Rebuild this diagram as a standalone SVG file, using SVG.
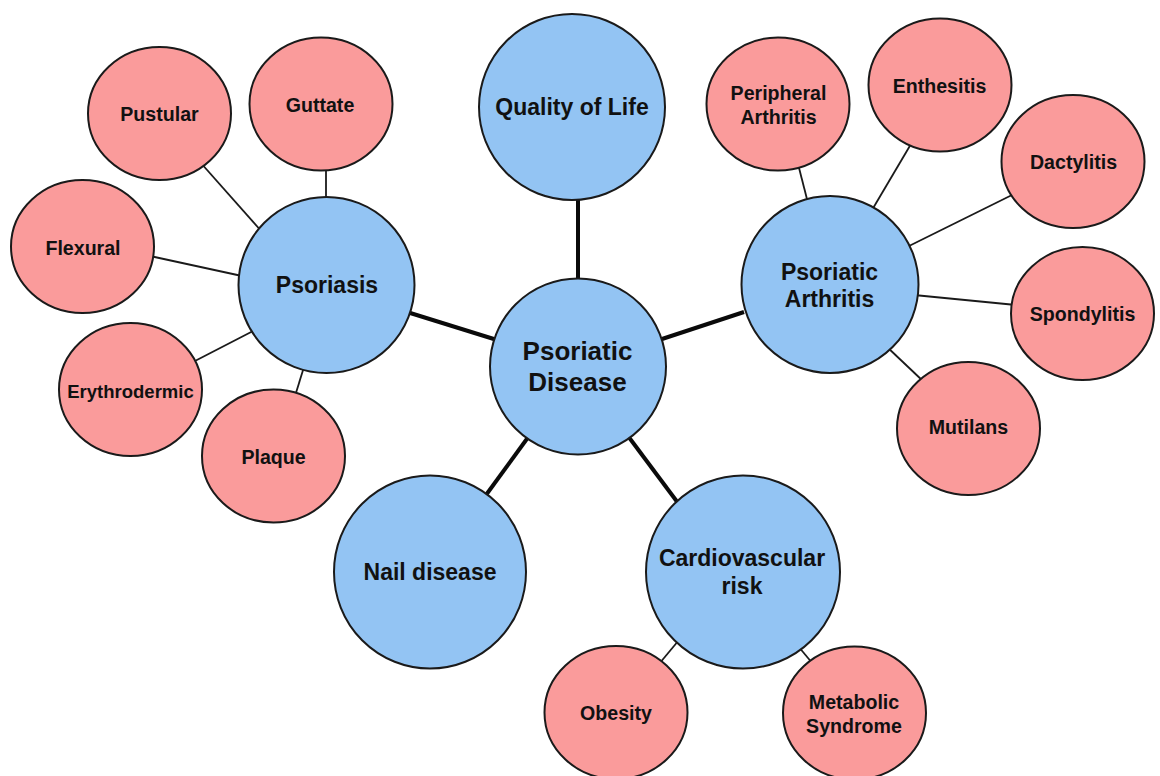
<svg xmlns="http://www.w3.org/2000/svg" width="1160" height="776" viewBox="0 0 1160 776">
<style>
.blue{fill:#93C4F3;stroke:#1a1a1a;stroke-width:2}
.pink{fill:#FA9B9B;stroke:#1a1a1a;stroke-width:2}
.thin{stroke:#1a1a1a;stroke-width:1.8;fill:none}
.thick{stroke:#0a0a0a;stroke-width:4;fill:none}
text{font-family:"Liberation Sans",Arial,sans-serif;font-weight:bold;fill:#111;text-anchor:middle}
.tb{font-size:23px}
.tc{font-size:26px}
.tp{font-size:19.6px}
</style>
<rect width="1160" height="776" fill="#ffffff"/>
<g id="connectors">
<line class="thin" x1="200" y1="162" x2="263" y2="233"/>
<line class="thin" x1="326" y1="168" x2="326" y2="201"/>
<line class="thin" x1="150" y1="256" x2="242" y2="276"/>
<line class="thin" x1="193" y1="362" x2="255" y2="330"/>
<line class="thin" x1="295" y1="396" x2="304" y2="367"/>
<line class="thin" x1="798" y1="164" x2="808" y2="203"/>
<line class="thin" x1="911" y1="144" x2="872" y2="210"/>
<line class="thin" x1="1014" y1="194" x2="907" y2="247"/>
<line class="thin" x1="914" y1="295" x2="1016" y2="305"/>
<line class="thin" x1="886" y1="346" x2="924" y2="382"/>
<line class="thin" x1="679" y1="640" x2="659" y2="664"/>
<line class="thin" x1="798" y1="646" x2="813" y2="664"/>
<line class="thick" x1="578" y1="196" x2="578" y2="282"/>
<line class="thick" x1="407" y1="312" x2="497" y2="340"/>
<line class="thick" x1="659" y1="340" x2="744" y2="312"/>
<line class="thick" x1="529" y1="436" x2="486" y2="495"/>
<line class="thick" x1="628" y1="436" x2="678" y2="503"/>
</g>
<g id="quality-of-life"><circle class="blue" cx="572" cy="107" r="93"/><text class="tb" x="572" y="115">Quality of Life</text></g>
<g id="psoriasis"><circle class="blue" cx="326.5" cy="285" r="88"/><text class="tb" x="327" y="293">Psoriasis</text></g>
<g id="psoriatic-disease"><circle class="blue" cx="578" cy="366.5" r="88"/><text class="tc" x="577.5" y="359.5">Psoriatic</text><text class="tc" x="577.5" y="390.5">Disease</text></g>
<g id="psoriatic-arthritis"><circle class="blue" cx="830" cy="284.5" r="88.5"/><text class="tb" x="829.5" y="279.5">Psoriatic</text><text class="tb" x="829.5" y="306.5">Arthritis</text></g>
<g id="nail-disease"><ellipse class="blue" cx="430" cy="572" rx="96" ry="96.5"/><text class="tb" x="430" y="580">Nail disease</text></g>
<g id="cardiovascular-risk"><ellipse class="blue" cx="743" cy="572" rx="97" ry="96.5"/><text class="tb" x="742" y="566">Cardiovascular</text><text class="tb" x="742" y="593.5">risk</text></g>
<g id="pustular"><ellipse class="pink" cx="159.5" cy="113.5" rx="71.5" ry="66.5"/><text class="tp" x="159.5" y="120.5">Pustular</text></g>
<g id="guttate"><ellipse class="pink" cx="321" cy="104" rx="71.5" ry="66.5"/><text class="tp" x="320" y="111.5">Guttate</text></g>
<g id="flexural"><ellipse class="pink" cx="82.5" cy="246.5" rx="71.5" ry="66.5"/><text class="tp" x="83" y="255">Flexural</text></g>
<g id="erythrodermic"><ellipse class="pink" cx="130.5" cy="389.5" rx="71.5" ry="66.5"/><text class="tp" x="130.5" y="397.5" style="font-size:18.5px">Erythrodermic</text></g>
<g id="plaque"><ellipse class="pink" cx="273.5" cy="456" rx="71.5" ry="66.5"/><text class="tp" x="273.5" y="464">Plaque</text></g>
<g id="peripheral-arthritis"><ellipse class="pink" cx="778" cy="104" rx="71.5" ry="66.5"/><text class="tp" x="778.5" y="100">Peripheral</text><text class="tp" x="778.5" y="124">Arthritis</text></g>
<g id="enthesitis"><ellipse class="pink" cx="940" cy="85" rx="71.5" ry="66.5"/><text class="tp" x="939.5" y="92.5">Enthesitis</text></g>
<g id="dactylitis"><ellipse class="pink" cx="1073" cy="161.5" rx="71.5" ry="66.5"/><text class="tp" x="1073.5" y="168.5">Dactylitis</text></g>
<g id="spondylitis"><ellipse class="pink" cx="1082.5" cy="313.5" rx="71.5" ry="66.5"/><text class="tp" x="1082.5" y="320.5">Spondylitis</text></g>
<g id="mutilans"><ellipse class="pink" cx="968.5" cy="428.5" rx="71.5" ry="66.5"/><text class="tp" x="968.5" y="434">Mutilans</text></g>
<g id="obesity"><ellipse class="pink" cx="616" cy="712.5" rx="71.5" ry="66.5"/><text class="tp" x="616" y="720">Obesity</text></g>
<g id="metabolic-syndrome"><ellipse class="pink" cx="854.5" cy="713" rx="71.5" ry="66.5"/><text class="tp" x="854" y="708.5">Metabolic</text><text class="tp" x="854" y="732.5">Syndrome</text></g>
</svg>
